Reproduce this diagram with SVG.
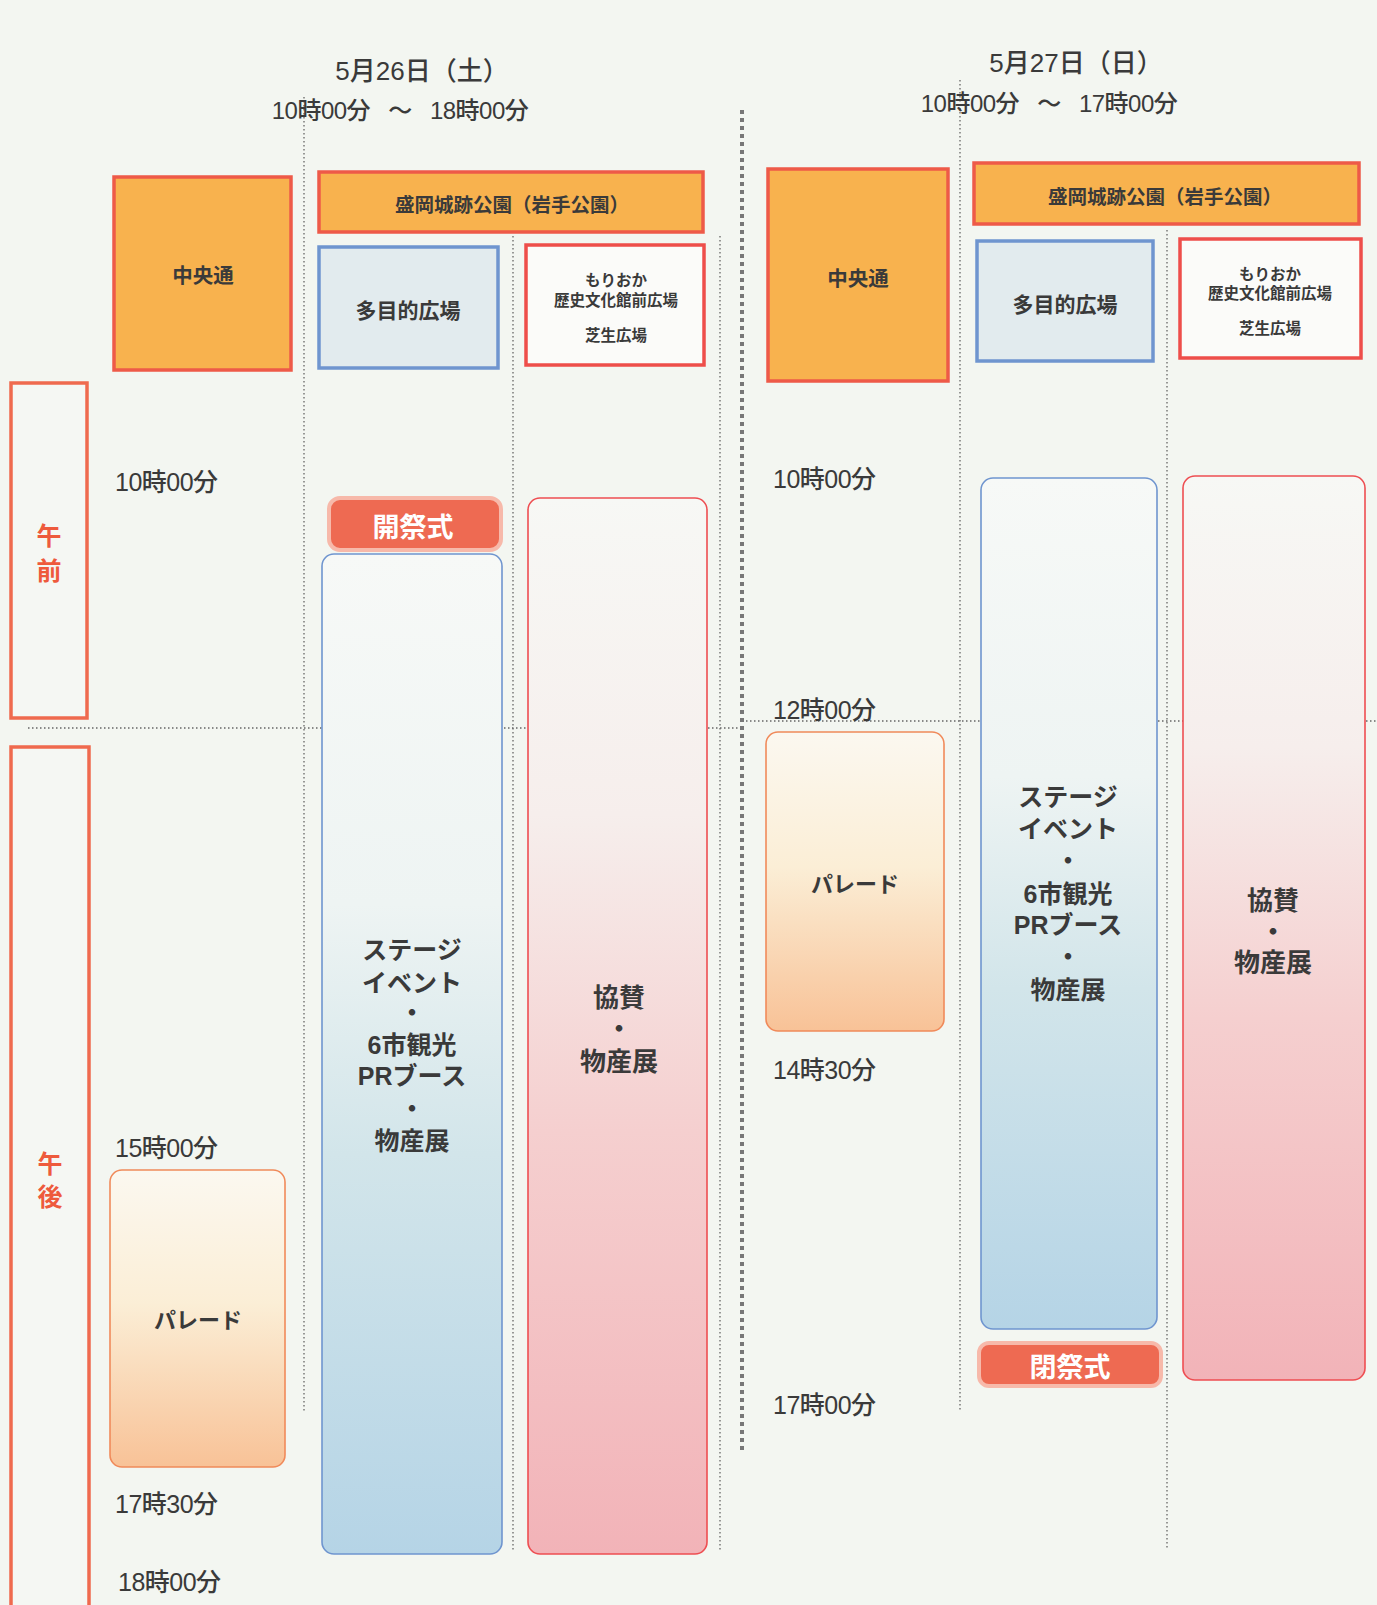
<svg xmlns="http://www.w3.org/2000/svg" width="1377" height="1605" viewBox="0 0 1377 1605">
<defs>
<linearGradient id="gBlue" x1="0" y1="0" x2="0" y2="1">
<stop offset="0" stop-color="#f7f9f7"/><stop offset="0.35" stop-color="#eef4f3"/><stop offset="0.6" stop-color="#d2e5ea"/><stop offset="1" stop-color="#b5d4e6"/>
</linearGradient>
<linearGradient id="gPink" x1="0" y1="0" x2="0" y2="1">
<stop offset="0" stop-color="#f7f8f5"/><stop offset="0.3" stop-color="#f6eeec"/><stop offset="0.6" stop-color="#f5cfcf"/><stop offset="1" stop-color="#f2b3b8"/>
</linearGradient>
<linearGradient id="gOrange" x1="0" y1="0" x2="0" y2="1">
<stop offset="0" stop-color="#fbf8f0"/><stop offset="0.45" stop-color="#fbeed6"/><stop offset="1" stop-color="#f8c297"/>
</linearGradient>
<style>
.bg{fill:#f3f6f1}
.t{font-family:"Liberation Sans","Noto Sans CJK JP",sans-serif;fill:#3a3a3a;text-anchor:middle;dominant-baseline:central}
.time{font-family:"Liberation Sans","Noto Sans CJK JP",sans-serif;fill:#3a3a3a;font-size:25px;font-weight:500;dominant-baseline:central;letter-spacing:-0.5px}
.date{font-size:26px;font-weight:500}
.range{font-size:24px;font-weight:500;letter-spacing:-0.5px;word-spacing:12px}
.venue{fill:#f8b24e;stroke:#ee5a48;stroke-width:3.5}
.blueH{fill:#e2ebee;stroke:#6f95cf;stroke-width:3.5}
.redH{fill:#fbfbf9;stroke:#ee4e4a;stroke-width:3.5}
.half{fill:#f5f7f3;stroke:#ef6a4e;stroke-width:3.5}
.halfT{font-family:"Noto Sans CJK JP",sans-serif;fill:#ee5a3c;font-size:25px;font-weight:bold;text-anchor:middle;dominant-baseline:central}
.stage{fill:url(#gBlue);stroke:#6f95cf;stroke-width:1.6}
.kyo{fill:url(#gPink);stroke:#ee4e52;stroke-width:1.6}
.parade{fill:url(#gOrange);stroke:#f08a5a;stroke-width:1.6}
.cere{fill:#ee6a52;stroke:#f7b9aa;stroke-width:4}
.cereT{font-family:"Noto Sans CJK JP",sans-serif;fill:#ffffff;font-size:27px;font-weight:bold;text-anchor:middle;dominant-baseline:central}
.dot{stroke:#666;stroke-width:1.3;stroke-dasharray:1.5 2.5;fill:none}
.sep{stroke:#777;stroke-width:4;stroke-dasharray:4 4;fill:none}
.big{font-size:25px;font-weight:bold}
.kb{font-size:26px;font-weight:bold}
.par{font-size:22px;font-weight:bold}
.mid{font-size:20.5px;font-weight:bold}
.mid2{font-size:21px;font-weight:bold}
.sm{font-size:19.5px;font-weight:bold}
.xs{font-size:15.5px;font-weight:bold}
</style>
</defs>
<rect class="bg" x="0" y="0" width="1377" height="1605"/>

<g id="connectors">
<line class="dot" x1="304" y1="97" x2="304" y2="1411"/>
<line class="dot" x1="513" y1="236" x2="513" y2="1550"/>
<line class="dot" x1="720" y1="236" x2="720" y2="1552"/>
<line class="dot" x1="960" y1="80" x2="960" y2="1411"/>
<line class="dot" x1="1167" y1="230" x2="1167" y2="1548"/>
<line class="dot" x1="28" y1="728" x2="742" y2="728"/>
<line class="dot" x1="742" y1="721" x2="1377" y2="721"/>
<line class="sep" x1="742" y1="110" x2="742" y2="1454"/>
</g>

<g id="half-am"><rect class="half" x="11" y="383" width="76" height="335"/><text class="halfT" x="49" y="534">午</text><text class="halfT" x="49" y="569">前</text></g>
<g id="half-pm"><rect class="half" x="11" y="747" width="78" height="870"/><text class="halfT" x="50" y="1162">午</text><text class="halfT" x="50" y="1195">後</text></g>

<g id="day1-title"><text class="t date" x="422" y="71">5月26日（土）</text><text class="t range" x="400" y="110">10時00分 ～ 18時00分</text></g>
<g id="day2-title"><text class="t date" x="1076" y="63">5月27日（日）</text><text class="t range" x="1049" y="103">10時00分 ～ 17時00分</text></g>

<g id="d1-chuo"><rect class="venue" x="114" y="177" width="177" height="193"/><text class="t mid" x="203" y="275">中央通</text></g>
<g id="d1-park"><rect class="venue" x="319" y="172" width="384" height="60"/><text class="t sm" x="512" y="205">盛岡城跡公園（岩手公園）</text></g>
<g id="d1-tamoku"><rect class="blueH" x="319" y="247" width="179" height="121"/><text class="t mid2" x="408" y="310">多目的広場</text></g>
<g id="d1-morioka"><rect class="redH" x="526" y="245" width="178" height="120"/><text class="t xs" x="616" y="280">もりおか</text><text class="t xs" x="616" y="300">歴史文化館前広場</text><text class="t xs" x="616" y="335">芝生広場</text></g>

<g id="d2-chuo"><rect class="venue" x="768" y="169" width="180" height="212"/><text class="t mid" x="858" y="278">中央通</text></g>
<g id="d2-park"><rect class="venue" x="974" y="163" width="385" height="61"/><text class="t sm" x="1165" y="197">盛岡城跡公園（岩手公園）</text></g>
<g id="d2-tamoku"><rect class="blueH" x="977" y="241" width="176" height="120"/><text class="t mid2" x="1065" y="304">多目的広場</text></g>
<g id="d2-morioka"><rect class="redH" x="1180" y="239" width="181" height="119"/><text class="t xs" x="1270" y="274">もりおか</text><text class="t xs" x="1270" y="293">歴史文化館前広場</text><text class="t xs" x="1270" y="328">芝生広場</text></g>

<g id="d1-times">
<text class="time" x="115" y="482">10時00分</text>
<text class="time" x="115" y="1148">15時00分</text>
<text class="time" x="115" y="1504">17時30分</text>
<text class="time" x="118" y="1582">18時00分</text>
</g>
<g id="d2-times">
<text class="time" x="773" y="479">10時00分</text>
<text class="time" x="773" y="710">12時00分</text>
<text class="time" x="773" y="1070">14時30分</text>
<text class="time" x="773" y="1405">17時00分</text>
</g>

<g id="d1-open"><rect class="cere" x="329" y="498" width="172" height="52" rx="11"/><text class="cereT" x="413" y="525">開祭式</text></g>
<g id="d1-stage"><rect class="stage" x="322" y="554" width="180" height="1000" rx="12"/>
<text class="t big" x="412" y="950">ステージ</text><text class="t big" x="412" y="983">イベント</text><text class="t big" x="412" y="1013">・</text><text class="t big" x="412" y="1045">6市観光</text><text class="t big" x="412" y="1076">PRブース</text><text class="t big" x="412" y="1109">・</text><text class="t big" x="412" y="1141">物産展</text></g>
<g id="d1-kyosan"><rect class="kyo" x="528" y="498" width="179" height="1056" rx="12"/>
<text class="t kb" x="619" y="998">協賛</text><text class="t kb" x="619" y="1029">・</text><text class="t kb" x="619" y="1062">物産展</text></g>
<g id="d1-parade"><rect class="parade" x="110" y="1170" width="175" height="297" rx="12"/><text class="t par" x="198" y="1320">パレード</text></g>

<g id="d2-parade"><rect class="parade" x="766" y="732" width="178" height="299" rx="12"/><text class="t par" x="855" y="884">パレード</text></g>
<g id="d2-stage"><rect class="stage" x="981" y="478" width="176" height="851" rx="12"/>
<text class="t big" x="1068" y="797">ステージ</text><text class="t big" x="1068" y="829">イベント</text><text class="t big" x="1068" y="861">・</text><text class="t big" x="1068" y="894">6市観光</text><text class="t big" x="1068" y="925">PRブース</text><text class="t big" x="1068" y="957">・</text><text class="t big" x="1068" y="990">物産展</text></g>
<g id="d2-close"><rect class="cere" x="979" y="1343" width="182" height="43" rx="10"/><text class="cereT" x="1070" y="1365">閉祭式</text></g>
<g id="d2-kyosan"><rect class="kyo" x="1183" y="476" width="182" height="904" rx="12"/>
<text class="t kb" x="1273" y="901">協賛</text><text class="t kb" x="1273" y="932">・</text><text class="t kb" x="1273" y="963">物産展</text></g>
</svg>
